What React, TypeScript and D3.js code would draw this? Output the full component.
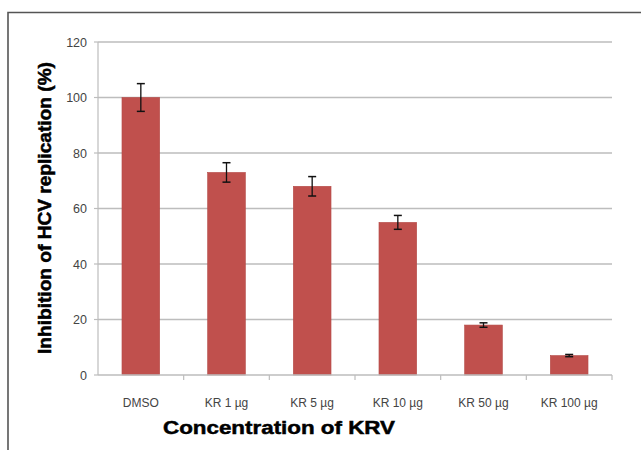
import React from "react";
import * as d3 from "d3";

const categories = ["DMSO", "KR 1 µg", "KR 5 µg", "KR 10 µg", "KR 50 µg", "KR 100 µg"];
const values = [100, 73, 68, 55, 18, 7];
const errors = [5, 3.5, 3.5, 2.5, 0.8, 0.4];
const yTicks = [0, 20, 40, 60, 80, 100, 120];

export default function App() {
  const W = 641, H = 450;
  const left = 98, right = 612, top = 42, bottom = 375;
  const x = d3.scaleBand<string>().domain(categories).range([left, right]).paddingInner(0.56).paddingOuter(0.28);
  const y = d3.scaleLinear().domain([0, 120]).range([bottom, top]);
  const step = (right - left) / categories.length;
  const font = "'Liberation Sans', Arial, sans-serif";
  return (
    <svg width={W} height={H} style={{ position: "absolute", left: 0, top: 0, background: "#fff" }}>
      <rect x={0} y={0} width={W} height={H} fill="#fff" />
      <path d={`M8,${H} V12.5 H${W}`} fill="none" stroke="#555" strokeWidth={1.6} />
      {yTicks.map((t) => (
        <g key={t}>
          {t > 0 && <line x1={left} x2={right} y1={y(t)} y2={y(t)} stroke="#bdbdbd" strokeWidth={1.3} />}
          <line x1={left - 4} x2={left} y1={y(t)} y2={y(t)} stroke="#bdbdbd" strokeWidth={1.2} />
          <text x={left - 11} y={y(t) + 4.5} textAnchor="end" fontFamily={font} fontSize={12.5} fill="#444">{t}</text>
        </g>
      ))}
      <line x1={left} x2={left} y1={top} y2={bottom} stroke="#bdbdbd" strokeWidth={1.2} />
      {categories.map((c, i) => (
        <g key={c}>
          <rect x={x(c)} y={y(values[i])} width={x.bandwidth()} height={bottom - y(values[i])} fill="#c0504d" stroke="#b44a47" strokeWidth={0.6} />
          <line x1={x(c)! + x.bandwidth() / 2} x2={x(c)! + x.bandwidth() / 2} y1={y(values[i] + errors[i])} y2={y(values[i] - errors[i])} stroke="#111" strokeWidth={1.3} />
          <line x1={x(c)! + x.bandwidth() / 2 - 4} x2={x(c)! + x.bandwidth() / 2 + 4} y1={y(values[i] + errors[i])} y2={y(values[i] + errors[i])} stroke="#111" strokeWidth={1.5} />
          <line x1={x(c)! + x.bandwidth() / 2 - 4} x2={x(c)! + x.bandwidth() / 2 + 4} y1={y(values[i] - errors[i])} y2={y(values[i] - errors[i])} stroke="#111" strokeWidth={1.5} />
          <line x1={left + step * (i + 1)} x2={left + step * (i + 1)} y1={bottom} y2={bottom + 5} stroke="#bdbdbd" strokeWidth={1.2} />
          <text x={x(c)! + x.bandwidth() / 2} y={407} textAnchor="middle" fontFamily={font} fontSize={12} fill="#444">{c}</text>
        </g>
      ))}
      <line x1={left} x2={right} y1={bottom} y2={bottom} stroke="#bdbdbd" strokeWidth={1.3} />
      <text x={279} y={434} textAnchor="middle" fontFamily={font} fontWeight="bold" fontSize={19} fill="#000" stroke="#000" strokeWidth={0.5} textLength={232} lengthAdjust="spacingAndGlyphs">Concentration of KRV</text>
      <text transform={`translate(51,${208}) rotate(-90)`} textAnchor="middle" fontFamily={font} fontWeight="bold" fontSize={17.5} fill="#000" stroke="#000" strokeWidth={0.5} textLength={292} lengthAdjust="spacingAndGlyphs">Inhibition of HCV replication (%)</text>
    </svg>
  );
}
